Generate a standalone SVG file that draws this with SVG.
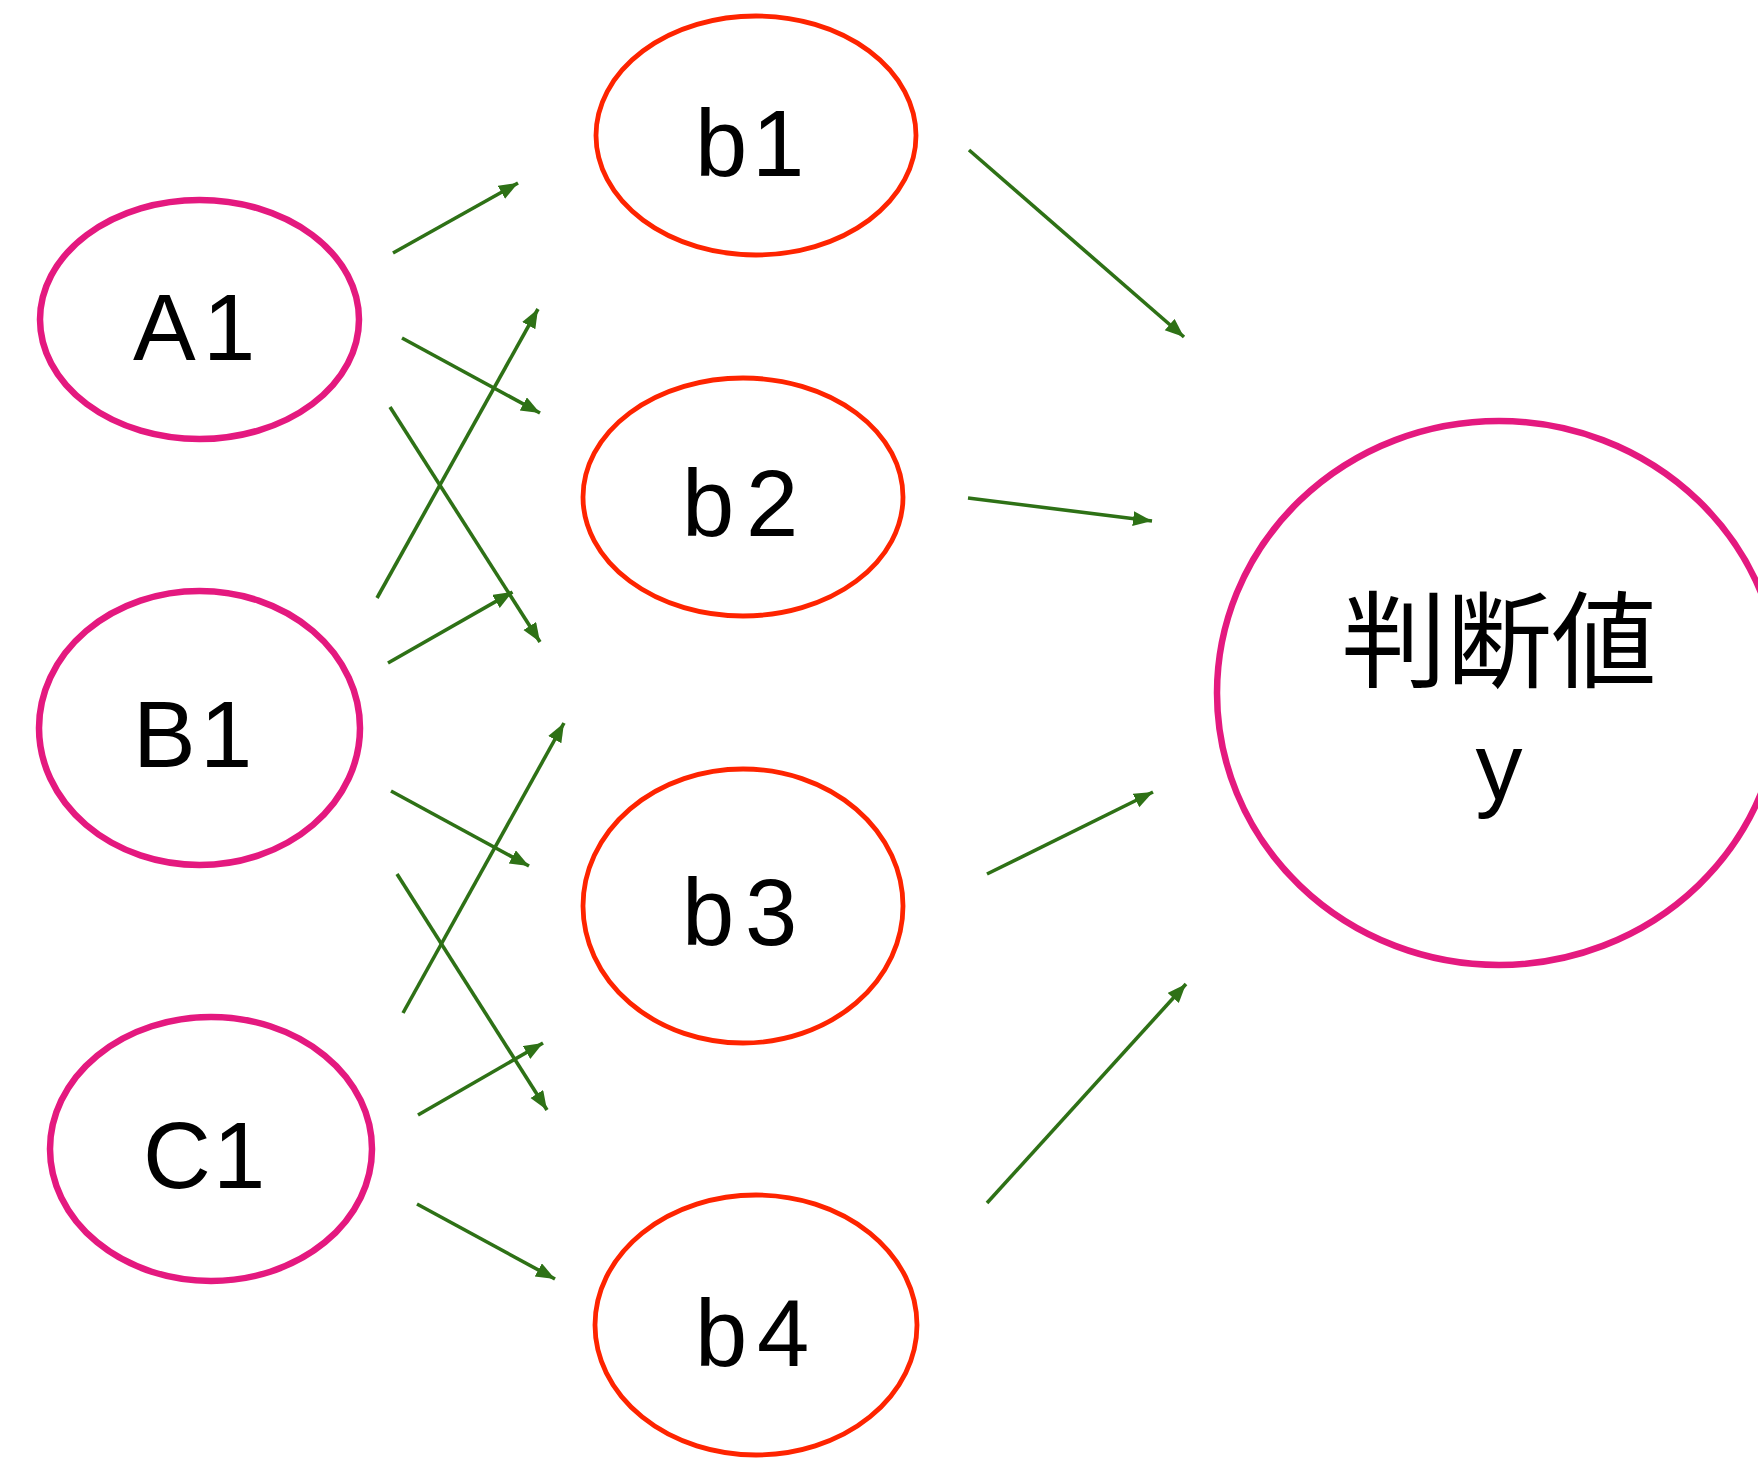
<svg xmlns="http://www.w3.org/2000/svg" width="1758" height="1458" viewBox="0 0 1758 1458">
  <style>
    .in { fill: #ffffff; stroke: #e4197f; stroke-width: 6.5; }
    .mid { fill: #ffffff; stroke: #fe2400; stroke-width: 4.8; }
    .lbl { font-family: "Liberation Sans", Arial, sans-serif; font-size: 94px; fill: #000000; }
    .jp { font-family: "Noto Sans CJK JP", "Noto Sans CJK SC", sans-serif; font-size: 105px; fill: #000000; }
    .edge { stroke: #2e7116; stroke-width: 3.6; fill: none; marker-end: url(#head); }
  </style>
  <defs>
    <marker id="head" markerUnits="userSpaceOnUse" markerWidth="21" markerHeight="16" refX="19" refY="7.5" orient="auto">
      <path d="M0,0 L19,7.5 L0,15 z" fill="#2e7116"/>
    </marker>
  </defs>
  <rect width="1758" height="1458" fill="#ffffff"/>

  <!-- input layer -->
  <g id="node-A1">
    <ellipse class="in" cx="199.5" cy="319.5" rx="159.5" ry="119.5"/>
    <text class="lbl" x="133 203" y="360">A1</text>
  </g>
  <g id="node-B1">
    <ellipse class="in" cx="199.5" cy="728" rx="160.5" ry="137"/>
    <text class="lbl" x="133 200" y="767">B1</text>
  </g>
  <g id="node-C1">
    <ellipse class="in" cx="211" cy="1149" rx="161" ry="132"/>
    <text class="lbl" x="143 213" y="1188">C1</text>
  </g>

  <!-- hidden layer -->
  <g id="node-b1">
    <ellipse class="mid" cx="756" cy="135.5" rx="160" ry="119.5"/>
    <text class="lbl" x="695 752" y="176">b1</text>
  </g>
  <g id="node-b2">
    <ellipse class="mid" cx="743" cy="497" rx="160" ry="119"/>
    <text class="lbl" x="682 746" y="536">b2</text>
  </g>
  <g id="node-b3">
    <ellipse class="mid" cx="743" cy="906" rx="160" ry="137"/>
    <text class="lbl" x="682 745" y="945">b3</text>
  </g>
  <g id="node-b4">
    <ellipse class="mid" cx="756" cy="1325" rx="161" ry="130"/>
    <text class="lbl" x="695 757" y="1366">b4</text>
  </g>

  <!-- output -->
  <g id="node-y">
    <ellipse class="in" cx="1499" cy="693" rx="282" ry="272"/>
    <text class="jp" x="1499" y="679" text-anchor="middle">判断値</text>
    <text class="lbl" x="1499" y="799" text-anchor="middle">y</text>
  </g>

  <g id="connectors">
    <line class="edge" x1="393" y1="253" x2="518" y2="183"/>
    <line class="edge" x1="402" y1="338" x2="540" y2="413"/>
    <line class="edge" x1="390" y1="407" x2="540" y2="642"/>
    <line class="edge" x1="377" y1="598" x2="538" y2="309"/>
    <line class="edge" x1="388" y1="663" x2="512.5" y2="592"/>
    <line class="edge" x1="391" y1="791" x2="529" y2="866"/>
    <line class="edge" x1="397" y1="874" x2="547" y2="1110"/>
    <line class="edge" x1="403" y1="1013" x2="564" y2="723"/>
    <line class="edge" x1="418" y1="1115" x2="543" y2="1043"/>
    <line class="edge" x1="417" y1="1204" x2="555" y2="1279"/>
    <line class="edge" x1="969" y1="150" x2="1184" y2="337"/>
    <line class="edge" x1="968" y1="498" x2="1152" y2="521"/>
    <line class="edge" x1="987" y1="874" x2="1153" y2="792"/>
    <line class="edge" x1="987" y1="1203" x2="1186" y2="984"/>
  </g>
</svg>
